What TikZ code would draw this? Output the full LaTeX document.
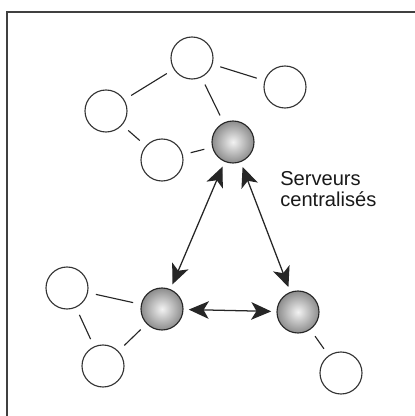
\documentclass[tikz,border=0pt]{standalone}
\usepackage{fontspec}
\setmainfont{Liberation Sans}
\usetikzlibrary{arrows.meta}

\tikzset{
    client/.style={circle, draw=black!80, line width=0.8pt, minimum size=1.05cm, inner sep=0pt, fill=white},
    serveur/.style={circle, draw=black!85, line width=0.8pt, minimum size=1.05cm, inner sep=0pt, inner color=black!5, outer color=black!45},
    lien/.style={draw=black!85, line width=0.8pt, shorten <=0.2cm, shorten >=0.2cm},
    fleche/.style={draw=black!85, line width=0.9pt, {Stealth[length=0.5cm,width=0.44cm,inset=0.13cm]}-{Stealth[length=0.5cm,width=0.44cm,inset=0.13cm]}, shorten <=0.13cm, shorten >=0.13cm}
}

\begin{document}
\begin{tikzpicture}
    \useasboundingbox (0, 0) rectangle (10.375, 10.4);
    \draw[black!75, line width=1pt] (0.175, 0) to (0.175, 10.1) to (10.375, 10.1);

    % groupe du haut
        \node[client] (a) at (4.8, 8.95) {};
        \node[client] (b) at (7.125, 8.225) {};
        \node[client] (c) at (2.65, 7.625) {};
        \node[client] (d) at (4.05, 6.4) {};
        \node[serveur] (s1) at (5.825, 6.85) {};

    % groupe du bas
        \node[client] (e) at (1.675, 3.2) {};
        \node[client] (f) at (2.575, 1.25) {};
        \node[serveur] (s2) at (4.05, 2.675) {};
        \node[serveur] (s3) at (7.45, 2.6) {};
        \node[client] (g) at (8.525, 1.075) {};

        \draw[lien] (a) to (c);
        \draw[lien] (a) to (b);
        \draw[lien] (a) to (s1);
        \draw[lien] (c) to (d);
        \draw[lien] (d) to (s1);
        \draw[lien] (e) to (s2);
        \draw[lien] (e) to (f);
        \draw[lien] (f) to (s2);
        \draw[lien] (s3) to (g);

        \draw[fleche] (s1) to (s2);
        \draw[fleche] (s1) to (s3);
        \draw[fleche] (s2) to (s3);

        \node[anchor=north west, inner sep=0pt, align=left, black!90, font=\fontsize{14.3}{14.8}\selectfont] (texte) at (7.0, 6.12) {Serveurs\\centralisés};
\end{tikzpicture}
\end{document}
